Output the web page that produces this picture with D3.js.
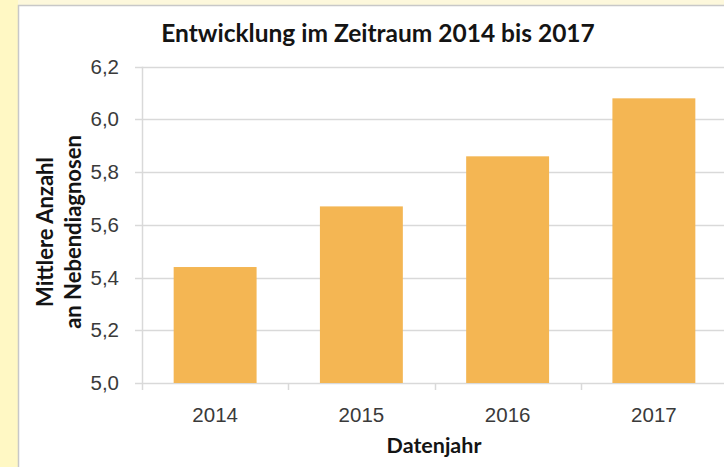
<!DOCTYPE html>
<html>
<head>
<meta charset="utf-8">
<script src="https://cdn.jsdelivr.net/npm/d3@7"></script>
<style>
  body { margin: 0; background: #fff; }
  svg { display: block; font-family: Lato, 'Open Sans', sans-serif; }
  .tick-label { font-size: 20.5px; fill: #3a3a3a; }
  .axis-title { font-size: 22px; font-weight: bold; fill: #141414; }
</style>
</head>
<body>
<div id="chart"></div>
<script>
  // data
  const years = ['2014', '2015', '2016', '2017'];
  const meanCounts = [5.44, 5.67, 5.86, 6.08];
  const yTicks = [5.0, 5.2, 5.4, 5.6, 5.8, 6.0, 6.2];

  const width = 724;
  const height = 467;

  const svg = d3.select('#chart').append('svg')
    .attr('width', width)
    .attr('height', height);

  // yellow page background around the chart box
  svg.append('rect')
    .attr('x', 0).attr('y', 0)
    .attr('width', width).attr('height', height)
    .attr('fill', '#fdf8dc');
  svg.append('rect')
    .attr('x', 0).attr('y', 0)
    .attr('width', 18).attr('height', height)
    .attr('fill', '#fff8c4');
  svg.append('rect')
    .attr('x', 18.5).attr('y', 5.5)
    .attr('width', width + 20).attr('height', height + 20)
    .attr('fill', '#fff')
    .attr('stroke', '#c8c8c8')
    .attr('stroke-width', 1.5);

  const plot = { left: 142, right: 727, top: 66.7, bottom: 383 };

  const xScale = d3.scaleBand()
    .domain(years)
    .range([plot.left, plot.right])
    .paddingInner(0.433)
    .paddingOuter(0.2165);

  const yScale = d3.scaleLinear()
    .domain([5.0, 6.2])
    .range([plot.bottom, plot.top]);

  // gridlines
  svg.selectAll('.grid')
    .data(yTicks)
    .enter()
    .append('line')
    .attr('class', 'grid')
    .attr('x1', plot.left - 7)
    .attr('x2', plot.right)
    .attr('y1', d => Math.round(yScale(d)) + 0.5)
    .attr('y2', d => Math.round(yScale(d)) + 0.5)
    .attr('stroke', '#d9d9d9')
    .attr('stroke-width', 1.5);

  // vertical axis line
  svg.append('line')
    .attr('x1', plot.left + 0.5).attr('x2', plot.left + 0.5)
    .attr('y1', plot.top).attr('y2', plot.bottom)
    .attr('stroke', '#d9d9d9')
    .attr('stroke-width', 1.5);

  // ticks between categories
  const bounds = years.map(y => xScale(y) - xScale.step() * xScale.paddingInner() / 2);
  bounds.push(plot.right);
  svg.selectAll('.xtick')
    .data(bounds)
    .enter()
    .append('line')
    .attr('class', 'xtick')
    .attr('x1', d => Math.round(d) + 0.5)
    .attr('x2', d => Math.round(d) + 0.5)
    .attr('y1', plot.bottom)
    .attr('y2', plot.bottom + 7)
    .attr('stroke', '#d9d9d9')
    .attr('stroke-width', 1.5);

  // bars
  svg.selectAll('.bar')
    .data(meanCounts)
    .enter()
    .append('rect')
    .attr('class', 'bar')
    .attr('x', (d, i) => xScale(years[i]))
    .attr('width', xScale.bandwidth())
    .attr('y', d => yScale(d))
    .attr('height', d => plot.bottom - yScale(d))
    .attr('fill', '#f4b653');

  // y axis labels
  const yAxis = d3.axisLeft(yScale)
    .tickValues(yTicks)
    .tickSize(7)
    .tickPadding(16)
    .tickFormat(d => d.toFixed(1).replace('.', ','));
  const gy = svg.append('g')
    .attr('transform', `translate(${plot.left},0)`)
    .call(yAxis);
  gy.select('.domain').remove();
  gy.selectAll('line').remove();
  gy.selectAll('text')
    .attr('class', 'tick-label')
    .attr('font-family', null)
    .attr('font-size', null)
    .attr('fill', null);

  // x axis labels
  const xAxis = d3.axisBottom(xScale).tickSize(0).tickPadding(24);
  const gx = svg.append('g')
    .attr('transform', `translate(0,${plot.bottom})`)
    .call(xAxis);
  gx.select('.domain').remove();
  gx.selectAll('text')
    .attr('class', 'tick-label')
    .attr('font-family', null)
    .attr('font-size', null)
    .attr('fill', null);

  // titles
  svg.append('text')
    .attr('class', 'axis-title')
    .attr('x', 378)
    .attr('y', 42)
    .attr('text-anchor', 'middle')
    .style('font-size', '24.5px')
    .text('Entwicklung im Zeitraum 2014 bis 2017');

  svg.append('text')
    .attr('class', 'axis-title')
    .attr('x', 434)
    .attr('y', 453)
    .attr('text-anchor', 'middle')
    .style('font-size', '21.5px')
    .text('Datenjahr');

  const yTitle = svg.append('text')
    .attr('class', 'axis-title')
    .attr('text-anchor', 'middle')
    .attr('transform', 'translate(53,232) rotate(-90)');
  yTitle.append('tspan').attr('x', 0).attr('y', 0).text('Mittlere Anzahl');
  yTitle.append('tspan').attr('x', 0).attr('y', 28).text('an Nebendiagnosen');
</script>
</body>
</html>
